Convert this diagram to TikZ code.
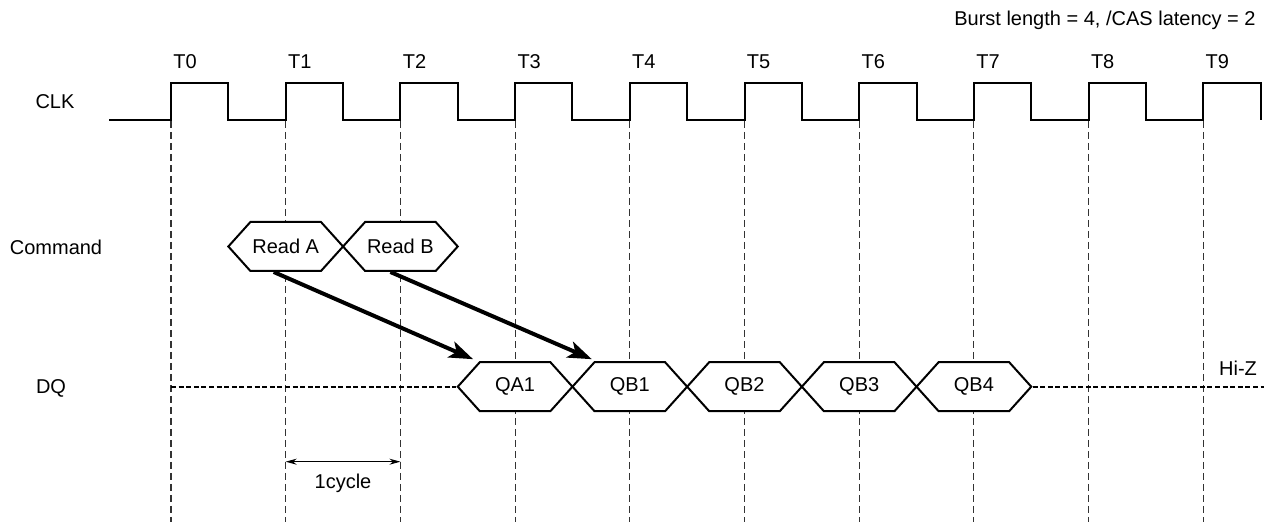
\documentclass[tikz,border=0pt]{standalone}
\usepackage{fontspec}
\setmainfont{Liberation Sans}
\usetikzlibrary{shapes.symbols,arrows.meta}

\begin{document}
\begin{tikzpicture}[x=0.5pt,y=-0.5pt,
  font=\fontsize{10pt}{12pt}\selectfont,
  hexbox/.style={draw, line width=1pt, fill=white, shape=signal,
    signal to=west and east, signal pointer angle=96,
    minimum width=57.35pt, minimum height=24.5pt, inner sep=0pt},
  clkline/.style={line width=1pt},
  gridline/.style={line width=0.55pt, black!80, dash pattern=on 3.5pt off 2pt},
  hizline/.style={line width=1pt, dash pattern=on 2.5pt off 1.3pt},
  bigarrow/.style={line width=2pt, -{Stealth[length=12pt,width=8.5pt,inset=3pt]}},
  dimarrow/.style={line width=0.5pt, {Stealth[length=5.5pt,width=3pt]}-{Stealth[length=5.5pt,width=3pt]}}]
  \useasboundingbox (0,0) rectangle (1264,522);

  % clock edges and grid
  \foreach \i [evaluate=\i as \tx using 171+114.7*\i] in {0,...,9} {
    \coordinate (T\i) at (\tx,0);
    \draw[gridline] (\tx,121) -- (\tx,522);
    \node[anchor=west, inner sep=1pt] (t\i) at (\tx,62) {T\i};
  }
  \draw[clkline] (109,120)
    foreach \i [evaluate=\i as \tx using 171+114.7*\i] in {0,...,9} {
      -- (\tx,120) -- (\tx,83) -- (\tx+57.35,83) -- (\tx+57.35,120)
    };

  % signal names
  \node (clk) at (55,102) {CLK};
  \node (cmd) at (56,247) {Command};
  \node (dq) at (51,388) {DQ};
  \node[anchor=east, inner sep=0pt] (burst) at (1256,20) {Burst length = 4, /CAS latency = 2};

  % commands
  \node[hexbox] (rda) at (285.7,246.5) {Read A};
  \node[hexbox] (rdb) at (400.4,246.5) {Read B};

  % data
  \foreach \nm/\txt [count=\k from 3, evaluate=\k as \tx using 171+114.7*\k]
      in {qa1/QA1, qb1/QB1, qb2/QB2, qb3/QB3, qb4/QB4}
    \node[hexbox] (\nm) at (\tx,386.7) {\txt};
  \draw[hizline] (171,386.7) -- (qa1.west);
  \draw[hizline] (qb4.east) -- (1264,386.7);
  \node (hiz) at (1238,368) {Hi-Z};

  % latency arrows
  \draw[bigarrow] ([xshift=-6pt]rda.south) -- ([xshift=-21pt,yshift=1pt]qa1.north);
  \draw[bigarrow] ([xshift=-5pt]rdb.south) -- ([xshift=-19pt,yshift=1pt]qb1.north);

  % one cycle
  \coordinate (c1) at (285.7,461.7);
  \coordinate (c2) at (400.4,461.7);
  \draw[dimarrow] (c1) -- (c2);
  \node (cyc) at (343,483) {1cycle};
\end{tikzpicture}
\end{document}
